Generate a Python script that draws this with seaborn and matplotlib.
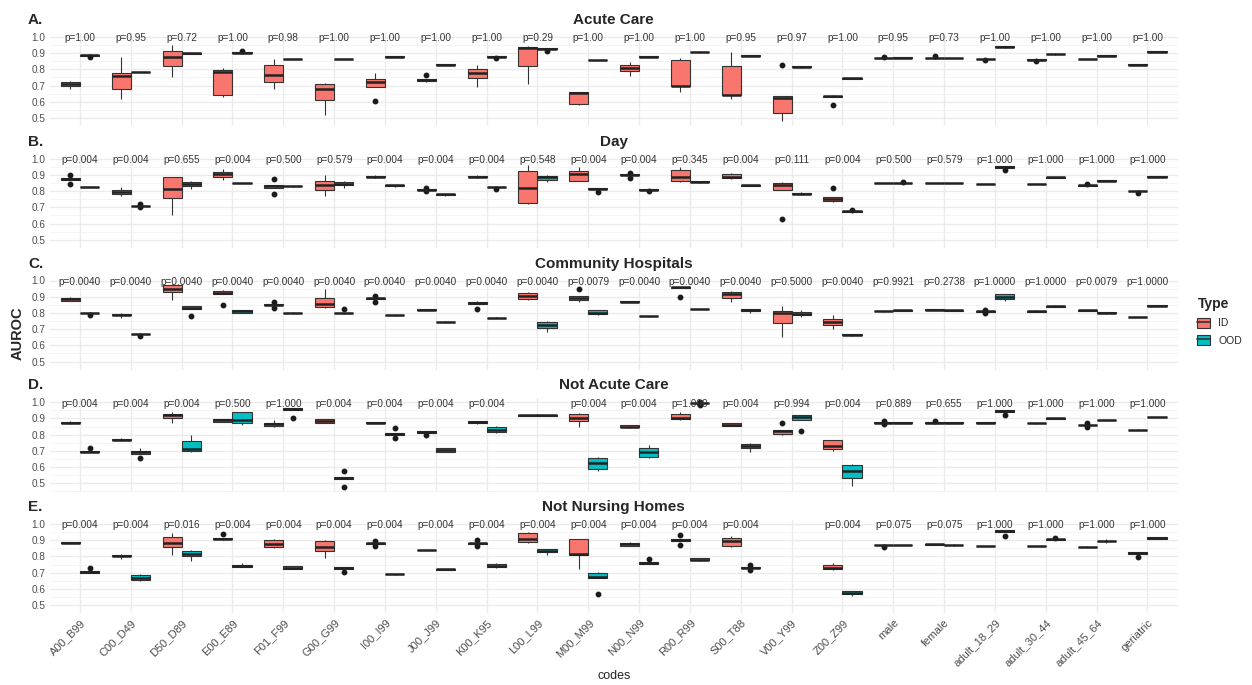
import pandas as pd
import matplotlib.pyplot as plt
import seaborn as sns
from matplotlib.patches import Patch
from matplotlib.lines import Line2D
from matplotlib.legend_handler import HandlerTuple

codes = ['A00_B99', 'C00_D49', 'D50_D89', 'E00_E89', 'F01_F99', 'G00_G99', 'I00_I99',
         'J00_J99', 'K00_K95', 'L00_L99', 'M00_M99', 'N00_N99', 'R00_R99', 'S00_T88',
         'V00_Y99', 'Z00_Z99', 'male', 'female', 'adult_18_29', 'adult_30_44',
         'adult_45_64', 'geriatric']

# five runs per box, one list per code (None = no model for that code)
acute_id = [
    [0.68, 0.70, 0.71, 0.72, 0.73], [0.62, 0.68, 0.76, 0.775, 0.875], [0.75, 0.82, 0.875, 0.915, 0.95],
    [0.63, 0.645, 0.785, 0.795, 0.81], [0.68, 0.725, 0.765, 0.825, 0.865], [0.52, 0.61, 0.68, 0.71, 0.715],
    [0.605, 0.69, 0.725, 0.74, 0.78], [0.72, 0.73, 0.735, 0.74, 0.765], [0.69, 0.745, 0.78, 0.805, 0.825],
    [0.71, 0.82, 0.935, 0.94, 0.945], [0.583, 0.585, 0.655, 0.66, 0.661], [0.76, 0.79, 0.81, 0.83, 0.845],
    [0.66, 0.695, 0.70, 0.855, 0.87], [0.62, 0.64, 0.645, 0.82, 0.91], [0.48, 0.53, 0.625, 0.635, 0.83],
    [0.58, 0.632, 0.635, 0.638, 0.64], [0.868, 0.869, 0.87, 0.871, 0.878], [0.867, 0.868, 0.869, 0.87, 0.88],
    [0.858, 0.864, 0.865, 0.866, 0.867], [0.853, 0.86, 0.861, 0.862, 0.863], [0.863, 0.864, 0.865, 0.866, 0.867],
    [0.828, 0.829, 0.83, 0.831, 0.832]]
acute_ood = [
    [0.878, 0.885, 0.887, 0.889, 0.892], [0.783, 0.784, 0.785, 0.786, 0.787], [0.897, 0.898, 0.899, 0.90, 0.901],
    [0.902, 0.903, 0.904, 0.905, 0.912], [0.863, 0.864, 0.865, 0.866, 0.867], [0.863, 0.864, 0.865, 0.866, 0.867],
    [0.877, 0.878, 0.879, 0.88, 0.881], [0.828, 0.829, 0.83, 0.831, 0.832], [0.868, 0.878, 0.879, 0.88, 0.881],
    [0.912, 0.928, 0.929, 0.931, 0.932], [0.855, 0.856, 0.857, 0.858, 0.859], [0.877, 0.878, 0.879, 0.88, 0.881],
    [0.907, 0.908, 0.909, 0.91, 0.911], [0.883, 0.884, 0.885, 0.886, 0.887], [0.81, 0.812, 0.815, 0.818, 0.82],
    [0.742, 0.743, 0.744, 0.745, 0.746], [0.871, 0.872, 0.873, 0.874, 0.875], [0.869, 0.87, 0.871, 0.872, 0.873],
    [0.935, 0.937, 0.94, 0.943, 0.945], [0.89, 0.893, 0.895, 0.897, 0.903], [0.883, 0.884, 0.885, 0.886, 0.887],
    [0.908, 0.909, 0.91, 0.911, 0.912]]
acute_p = ['1.00', '0.95', '0.72', '1.00', '0.98', '1.00', '1.00', '1.00', '1.00', '0.29', '1.00',
           '1.00', '1.00', '0.95', '0.97', '1.00', '0.95', '0.73', '1.00', '1.00', '1.00', '1.00']

day_id = [
    [0.845, 0.87, 0.875, 0.88, 0.90], [0.77, 0.78, 0.795, 0.81, 0.825], [0.65, 0.755, 0.815, 0.885, 0.89],
    [0.87, 0.885, 0.905, 0.92, 0.935], [0.785, 0.82, 0.83, 0.84, 0.875], [0.77, 0.805, 0.84, 0.865, 0.90],
    [0.883, 0.885, 0.89, 0.895, 0.897], [0.80, 0.808, 0.81, 0.812, 0.82], [0.883, 0.885, 0.89, 0.895, 0.897],
    [0.72, 0.725, 0.82, 0.925, 0.96], [0.86, 0.865, 0.905, 0.925, 0.95], [0.88, 0.897, 0.90, 0.903, 0.915],
    [0.855, 0.86, 0.89, 0.93, 0.95], [0.878, 0.88, 0.89, 0.905, 0.91], [0.625, 0.805, 0.84, 0.85, 0.855],
    [0.735, 0.74, 0.75, 0.765, 0.82], [0.848, 0.849, 0.85, 0.851, 0.852], [0.848, 0.849, 0.85, 0.851, 0.852],
    [0.843, 0.844, 0.845, 0.846, 0.847], [0.843, 0.844, 0.845, 0.846, 0.847], [0.833, 0.834, 0.835, 0.836, 0.843],
    [0.79, 0.798, 0.80, 0.802, 0.803]]
day_ood = [
    [0.823, 0.824, 0.825, 0.826, 0.827], [0.70, 0.709, 0.71, 0.711, 0.718], [0.815, 0.83, 0.845, 0.855, 0.865],
    [0.848, 0.849, 0.85, 0.851, 0.852], [0.828, 0.829, 0.83, 0.831, 0.832], [0.82, 0.835, 0.845, 0.855, 0.86],
    [0.828, 0.833, 0.835, 0.837, 0.838], [0.77, 0.777, 0.78, 0.782, 0.783], [0.815, 0.823, 0.825, 0.827, 0.828],
    [0.855, 0.87, 0.885, 0.895, 0.90], [0.795, 0.813, 0.815, 0.817, 0.818], [0.80, 0.808, 0.81, 0.812, 0.813],
    [0.848, 0.855, 0.858, 0.862, 0.863], [0.83, 0.832, 0.835, 0.837, 0.838], [0.775, 0.78, 0.785, 0.79, 0.792],
    [0.672, 0.674, 0.675, 0.676, 0.685], [0.847, 0.849, 0.85, 0.851, 0.855], [0.848, 0.849, 0.85, 0.851, 0.852],
    [0.93, 0.945, 0.95, 0.953, 0.955], [0.883, 0.884, 0.885, 0.886, 0.887], [0.863, 0.864, 0.865, 0.866, 0.867],
    [0.888, 0.889, 0.89, 0.891, 0.892]]
day_p = ['0.004', '0.004', '0.655', '0.004', '0.500', '0.579', '0.004', '0.004', '0.004', '0.548', '0.004',
         '0.004', '0.345', '0.004', '0.111', '0.004', '0.500', '0.579', '1.000', '1.000', '1.000', '1.000']

comm_id = [
    [0.873, 0.875, 0.885, 0.895, 0.897], [0.77, 0.785, 0.79, 0.795, 0.797], [0.88, 0.93, 0.95, 0.975, 0.98],
    [0.85, 0.915, 0.925, 0.935, 0.94], [0.83, 0.848, 0.85, 0.852, 0.87], [0.83, 0.835, 0.855, 0.895, 0.945],
    [0.87, 0.887, 0.89, 0.893, 0.905], [0.815, 0.818, 0.82, 0.822, 0.825], [0.825, 0.855, 0.86, 0.87, 0.872],
    [0.88, 0.885, 0.905, 0.925, 0.93], [0.87, 0.88, 0.895, 0.905, 0.945], [0.868, 0.869, 0.87, 0.871, 0.872],
    [0.90, 0.955, 0.958, 0.96, 0.962], [0.865, 0.895, 0.915, 0.93, 0.935], [0.65, 0.74, 0.80, 0.81, 0.84],
    [0.70, 0.725, 0.745, 0.765, 0.79], [0.808, 0.809, 0.81, 0.811, 0.812], [0.815, 0.816, 0.82, 0.824, 0.825],
    [0.80, 0.808, 0.81, 0.812, 0.82], [0.807, 0.808, 0.81, 0.812, 0.818], [0.813, 0.814, 0.815, 0.816, 0.817],
    [0.773, 0.774, 0.775, 0.776, 0.777]]
comm_ood = [
    [0.788, 0.798, 0.80, 0.802, 0.803], [0.655, 0.668, 0.67, 0.672, 0.673], [0.78, 0.825, 0.83, 0.84, 0.842],
    [0.80, 0.802, 0.81, 0.815, 0.817], [0.797, 0.798, 0.80, 0.802, 0.805], [0.795, 0.797, 0.80, 0.802, 0.825],
    [0.783, 0.784, 0.785, 0.786, 0.787], [0.743, 0.744, 0.745, 0.746, 0.747], [0.768, 0.769, 0.77, 0.771, 0.772],
    [0.685, 0.705, 0.725, 0.745, 0.747], [0.785, 0.795, 0.80, 0.815, 0.817], [0.773, 0.778, 0.78, 0.782, 0.783],
    [0.823, 0.824, 0.825, 0.826, 0.827], [0.80, 0.81, 0.815, 0.825, 0.827], [0.775, 0.785, 0.795, 0.805, 0.815],
    [0.657, 0.663, 0.665, 0.667, 0.668], [0.813, 0.814, 0.815, 0.816, 0.817], [0.813, 0.814, 0.815, 0.816, 0.817],
    [0.875, 0.885, 0.90, 0.915, 0.917], [0.835, 0.837, 0.84, 0.845, 0.846], [0.795, 0.797, 0.80, 0.803, 0.805],
    [0.843, 0.844, 0.845, 0.846, 0.847]]
comm_p = ['0.0040', '0.0040', '0.0040', '0.0040', '0.0040', '0.0040', '0.0040', '0.0040', '0.0040', '0.0040',
          '0.0079', '0.0040', '0.0040', '0.0040', '0.5000', '0.0040', '0.9921', '0.2738', '1.0000', '1.0000',
          '0.0079', '1.0000']

notacute_id = [
    [0.868, 0.87, 0.875, 0.88, 0.882], [0.762, 0.765, 0.77, 0.775, 0.78], [0.87, 0.905, 0.92, 0.93, 0.94],
    [0.878, 0.88, 0.89, 0.895, 0.897], [0.845, 0.855, 0.865, 0.875, 0.89], [0.87, 0.875, 0.885, 0.895, 0.897],
    [0.873, 0.874, 0.875, 0.876, 0.877], [0.795, 0.81, 0.815, 0.82, 0.822], [0.865, 0.875, 0.88, 0.885, 0.887],
    [0.915, 0.917, 0.92, 0.923, 0.925], [0.845, 0.885, 0.905, 0.925, 0.935], [0.843, 0.845, 0.85, 0.86, 0.862],
    [0.893, 0.895, 0.905, 0.925, 0.94], [0.853, 0.855, 0.86, 0.87, 0.872], [0.80, 0.805, 0.82, 0.83, 0.87],
    [0.70, 0.71, 0.73, 0.765, 0.767], [0.865, 0.873, 0.875, 0.877, 0.885], [0.873, 0.874, 0.875, 0.876, 0.885],
    [0.873, 0.874, 0.875, 0.876, 0.877], [0.868, 0.869, 0.87, 0.871, 0.872], [0.85, 0.858, 0.86, 0.862, 0.87],
    [0.828, 0.829, 0.83, 0.831, 0.832]]
notacute_ood = [
    [0.69, 0.693, 0.695, 0.70, 0.715], [0.655, 0.683, 0.69, 0.70, 0.72], [0.69, 0.70, 0.71, 0.76, 0.80],
    [0.86, 0.87, 0.89, 0.94, 0.942], [0.905, 0.955, 0.96, 0.965, 0.967], [0.475, 0.525, 0.535, 0.54, 0.575],
    [0.78, 0.80, 0.805, 0.81, 0.84], [0.693, 0.695, 0.705, 0.715, 0.717], [0.813, 0.815, 0.83, 0.85, 0.852],
    None, [0.575, 0.585, 0.625, 0.655, 0.665], [0.655, 0.665, 0.69, 0.715, 0.735],
    [0.985, 0.994, 0.995, 0.996, 1.0], [0.69, 0.715, 0.73, 0.74, 0.75], [0.825, 0.89, 0.91, 0.92, 0.922],
    [0.48, 0.535, 0.575, 0.61, 0.62], [0.873, 0.874, 0.875, 0.876, 0.877], [0.873, 0.874, 0.875, 0.876, 0.877],
    [0.92, 0.94, 0.945, 0.95, 0.952], [0.898, 0.899, 0.90, 0.901, 0.902], [0.888, 0.889, 0.89, 0.891, 0.892],
    [0.908, 0.909, 0.91, 0.911, 0.912]]
notacute_p = ['0.004', '0.004', '0.004', '0.500', '1.000', '0.004', '0.004', '0.004', '0.004', None, '0.004',
              '0.004', '1.000', '0.004', '0.994', '0.004', '0.889', '0.655', '1.000', '1.000', '1.000', '1.000']

notnh_id = [
    [0.88, 0.882, 0.884, 0.886, 0.888], [0.785, 0.80, 0.805, 0.81, 0.812], [0.81, 0.855, 0.885, 0.92, 0.945],
    [0.90, 0.905, 0.91, 0.915, 0.94], [0.85, 0.855, 0.875, 0.90, 0.905], [0.79, 0.835, 0.86, 0.895, 0.90],
    [0.865, 0.877, 0.88, 0.883, 0.895], [0.838, 0.839, 0.84, 0.841, 0.842], [0.862, 0.877, 0.88, 0.885, 0.90],
    [0.885, 0.89, 0.91, 0.945, 0.95], [0.725, 0.81, 0.815, 0.905, 0.91], [0.863, 0.865, 0.875, 0.885, 0.887],
    [0.87, 0.895, 0.90, 0.905, 0.93], [0.855, 0.865, 0.895, 0.915, 0.925], None,
    [0.715, 0.72, 0.73, 0.75, 0.76], [0.86, 0.868, 0.87, 0.872, 0.875], [0.872, 0.873, 0.875, 0.877, 0.878],
    [0.863, 0.864, 0.865, 0.866, 0.867], [0.863, 0.864, 0.865, 0.866, 0.867], [0.858, 0.859, 0.86, 0.861, 0.862],
    [0.798, 0.815, 0.82, 0.825, 0.827]]
notnh_ood = [
    [0.698, 0.70, 0.705, 0.71, 0.727], [0.65, 0.655, 0.665, 0.685, 0.69], [0.77, 0.80, 0.815, 0.835, 0.84],
    [0.733, 0.735, 0.74, 0.745, 0.76], [0.723, 0.725, 0.73, 0.74, 0.742], [0.705, 0.725, 0.73, 0.735, 0.737],
    [0.688, 0.689, 0.69, 0.691, 0.692], [0.718, 0.719, 0.72, 0.721, 0.722], [0.73, 0.735, 0.74, 0.755, 0.757],
    [0.81, 0.825, 0.835, 0.845, 0.847], [0.57, 0.665, 0.675, 0.70, 0.702], [0.753, 0.755, 0.76, 0.765, 0.785],
    [0.773, 0.775, 0.78, 0.79, 0.792], [0.715, 0.728, 0.73, 0.732, 0.745], None,
    [0.555, 0.565, 0.575, 0.585, 0.587], [0.868, 0.869, 0.87, 0.871, 0.872], [0.862, 0.868, 0.87, 0.872, 0.878],
    [0.925, 0.95, 0.955, 0.96, 0.962], [0.903, 0.904, 0.905, 0.906, 0.915], [0.885, 0.892, 0.895, 0.898, 0.905],
    [0.908, 0.91, 0.915, 0.92, 0.922]]
notnh_p = ['0.004', '0.004', '0.016', '0.004', '0.004', '0.004', '0.004', '0.004', '0.004', '0.004', '0.004',
           '0.004', '0.004', '0.004', None, '0.004', '0.075', '0.075', '1.000', '1.000', '1.000', '1.000']

panels = [
    ('A.', 'Acute Care', acute_id, acute_ood, acute_p),
    ('B.', 'Day', day_id, day_ood, day_p),
    ('C.', 'Community Hospitals', comm_id, comm_ood, comm_p),
    ('D.', 'Not Acute Care', notacute_id, notacute_ood, notacute_p),
    ('E.', 'Not Nursing Homes', notnh_id, notnh_ood, notnh_p),
]

palette = {'ID': '#F8766D', 'OOD': '#00BFC4'}
W, H = 1252, 685

sns.set_theme(style='white')
plt.rcParams['font.family'] = ['Liberation Sans', 'DejaVu Sans']


def to_frame(id_runs, ood_runs):
    rows = []
    for code, a, b in zip(codes, id_runs, ood_runs):
        for v in (a or []):
            rows.append((code, 'ID', v))
        for v in (b or []):
            rows.append((code, 'OOD', v))
    return pd.DataFrame(rows, columns=['codes', 'Type', 'AUROC'])


box_kw = dict(linecolor='#333333', linewidth=0.8, saturation=1, showcaps=False, fliersize=3.2,
              flierprops=dict(marker='o', markerfacecolor='#1a1a1a', markeredgecolor='#1a1a1a'),
              medianprops=dict(linewidth=1.8, color='#222222'))

fig = plt.figure(figsize=(W / 100, H / 100), dpi=100)
left_px, right_px = 49.5, 1178
ylo, yhi = 0.449, 1.026
px_per_unit = 162

for i, (tag, title, id_runs, ood_runs, pvals) in enumerate(panels):
    y_one = 37 + i * 121.75
    top_px = y_one - (yhi - 1.0) * px_per_unit
    bot_px = y_one + (1.0 - ylo) * px_per_unit
    ax = fig.add_axes([left_px / W, 1 - bot_px / H, (right_px - left_px) / W, (bot_px - top_px) / H])

    df = to_frame(id_runs, ood_runs)
    n_types = df.groupby('codes')['Type'].nunique()
    paired = df[df['codes'].map(n_types) == 2]
    single = df[df['codes'].map(n_types) == 1]

    sns.boxplot(data=paired, x='codes', y='AUROC', hue='Type', order=codes, hue_order=['ID', 'OOD'],
                palette=palette, width=0.75, legend=False, ax=ax, **box_kw)
    if len(single):
        # a code with only one model gets the full slot, like ggplot's dodge
        sns.boxplot(data=single, x='codes', y='AUROC', order=codes, color=palette[single['Type'].iloc[0]],
                    width=0.75, ax=ax, **box_kw)

    for j, p in enumerate(pvals):
        if p is not None:
            ax.text(j, 0.992, 'p=' + p, ha='center', va='center', fontsize=7.2, color='#333333')

    ax.set_xlim(-0.6, len(codes) - 0.4)
    ax.set_ylim(ylo, yhi)
    ax.set_yticks([0.5, 0.6, 0.7, 0.8, 0.9, 1.0])
    ax.set_yticklabels(['0.5', '0.6', '0.7', '0.8', '0.9', '1.0'])
    ax.set_yticks([0.45, 0.55, 0.65, 0.75, 0.85, 0.95], minor=True)
    ax.grid(which='major', color='#EBEBEB', linewidth=1.0)
    ax.grid(which='minor', axis='y', color='#F2F2F2', linewidth=0.6)
    ax.set_axisbelow(True)
    for s in ax.spines.values():
        s.set_visible(False)
    ax.tick_params(which='both', length=0, labelsize=7.2, labelcolor='#4D4D4D', pad=3)
    ax.set_xlabel('')
    ax.set_ylabel('')
    if i < len(panels) - 1:
        ax.set_xticklabels([])
    else:
        ax.set_xticks(range(len(codes)))
        ax.set_xticklabels(codes, rotation=45, ha='right', rotation_mode='anchor', fontsize=8)

    title_y = 1 - (y_one - 17) / H
    fig.text((left_px + right_px) / 2 / W, title_y, title, ha='center', va='center',
             fontsize=11, fontweight='bold')
    fig.text(28 / W, title_y, tag, ha='left', va='center', fontsize=11, fontweight='bold')

fig.text(18 / W, 1 - 333 / H, 'AUROC', rotation=90, ha='center', va='center', fontsize=10.5, fontweight='bold')
fig.text((left_px + right_px) / 2 / W, 1 - 676 / H, 'codes', ha='center', va='center', fontsize=9)

# legend key: filled box with a median line across it
handles = [(Patch(facecolor=palette[t], edgecolor='#333333', linewidth=0.8),
            Line2D([], [], color='#333333', linewidth=1.2)) for t in ['ID', 'OOD']]
leg = fig.legend(handles, ['ID', 'OOD'], title='Type', loc='upper left',
                 bbox_to_anchor=(1188 / W, 1 - 288 / H), frameon=False, fontsize=7.5,
                 handlelength=1.2, handleheight=1.2, labelspacing=0.6,
                 handler_map={tuple: HandlerTuple(ndivide=1, pad=0)})
leg.get_title().set_fontweight('bold')
leg.get_title().set_fontsize(10)
leg._legend_box.align = 'left'

fig.savefig('out.png', dpi=100)
